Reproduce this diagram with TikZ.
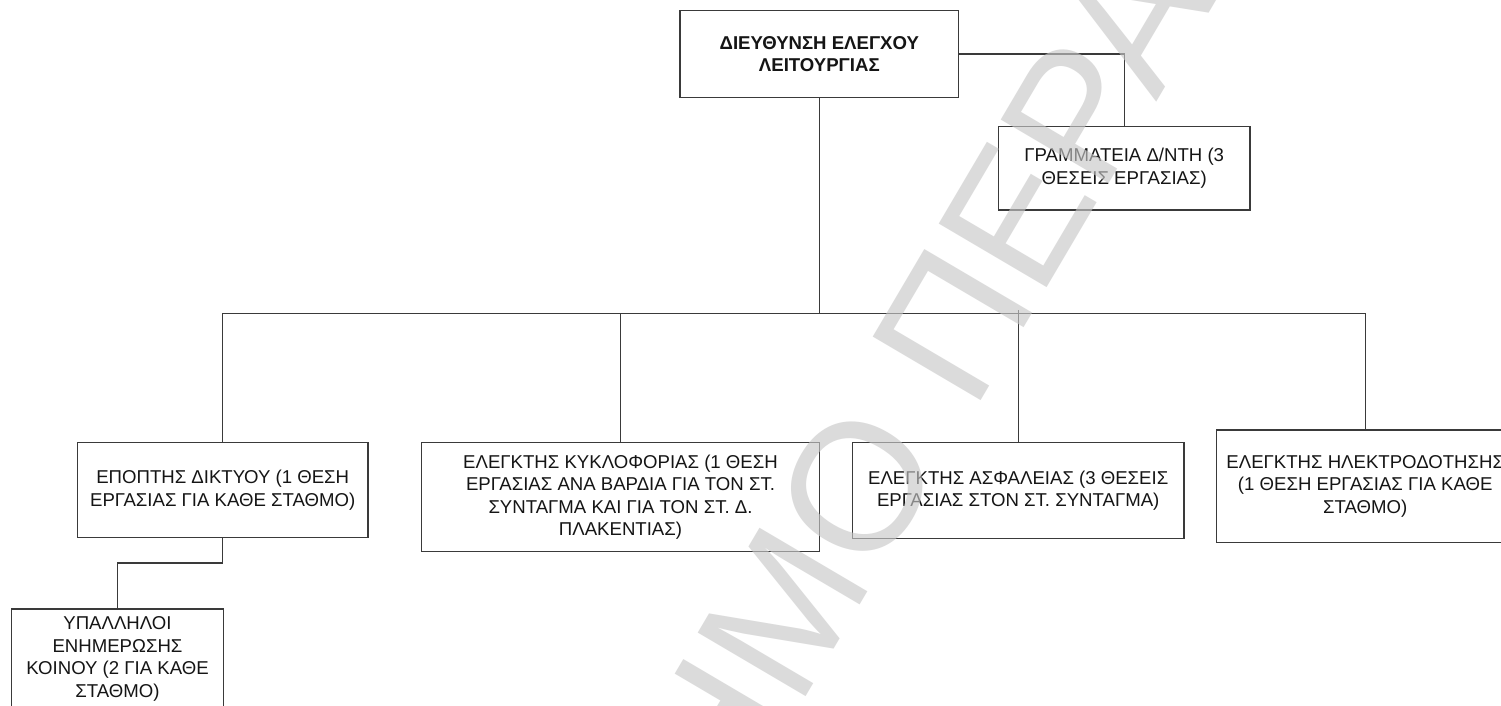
\documentclass[tikz,border=0pt]{standalone}
\usepackage{fontspec}
\setmainfont{Liberation Sans}
\usetikzlibrary{calc}

\definecolor{ink}{HTML}{151515}
\definecolor{rule}{HTML}{3A3A3A}

\tikzset{
  unit/.style={draw=rule, line width=1.2pt, inner sep=0pt, align=center,
               text=ink, font=\fontsize{18.6}{22.5}\selectfont},
  link/.style={draw=rule, line width=1.2pt},
  stamp/.style={text=black!22, opacity=0.64, inner sep=0pt,
                font=\fontsize{182}{182}\selectfont}
}

\begin{document}
\begin{tikzpicture}[x=1pt, y=-1pt]
  \useasboundingbox (0,0) rectangle (1501,706);
  \clip (0,0) rectangle (1501,706);
  \fill[white] (0,0) rectangle (1501,706);

  % director
  \node[unit, minimum width=278.7pt, minimum height=86.6pt,
        font=\fontsize{18.6}{22.5}\selectfont\bfseries]
    (dir) at (819.3,54) {ΔΙΕΥΘΥΝΣΗ ΕΛΕΓΧΟΥ\\ΛΕΙΤΟΥΡΓΙΑΣ};

  % secretariat
  \node[unit, minimum width=251.7pt, minimum height=83.3pt]
    (sec) at (1124.2,168.3) {ΓΡΑΜΜΑΤΕΙΑ Δ/ΝΤΗ (3\\ΘΕΣΕΙΣ ΕΡΓΑΣΙΑΣ)};

  % controllers
  \node[unit, minimum width=290.7pt, minimum height=95pt]
    (net) at (222.7,490.2) {ΕΠΟΠΤΗΣ ΔΙΚΤΥΟΥ (1 ΘΕΣΗ\\ΕΡΓΑΣΙΑΣ ΓΙΑ ΚΑΘΕ ΣΤΑΘΜΟ)};
  \node[unit, minimum width=397.6pt, minimum height=109pt]
    (traf) at (620.5,497.2) {ΕΛΕΓΚΤΗΣ ΚΥΚΛΟΦΟΡΙΑΣ (1 ΘΕΣΗ\\ΕΡΓΑΣΙΑΣ ΑΝΑ ΒΑΡΔΙΑ ΓΙΑ ΤΟΝ ΣΤ.\\ΣΥΝΤΑΓΜΑ ΚΑΙ ΓΙΑ ΤΟΝ ΣΤ. Δ.\\ΠΛΑΚΕΝΤΙΑΣ)};
  \node[unit, minimum width=331.7pt, minimum height=95.6pt]
    (safe) at (1018.2,490.5) {ΕΛΕΓΚΤΗΣ ΑΣΦΑΛΕΙΑΣ (3 ΘΕΣΕΙΣ\\ΕΡΓΑΣΙΑΣ ΣΤΟΝ ΣΤ. ΣΥΝΤΑΓΜΑ)};
  \node[unit, minimum width=297pt, minimum height=112.3pt]
    (pow) at (1365.2,486.2) {ΕΛΕΓΚΤΗΣ ΗΛΕΚΤΡΟΔΟΤΗΣΗΣ\\(1 ΘΕΣΗ ΕΡΓΑΣΙΑΣ ΓΙΑ ΚΑΘΕ\\ΣΤΑΘΜΟ)};

  % information staff
  \node[unit, minimum width=211.6pt, minimum height=100pt]
    (info) at (117.5,659) {ΥΠΑΛΛΗΛΟΙ\\ΕΝΗΜΕΡΩΣΗΣ\\ΚΟΙΝΟΥ (2 ΓΙΑ ΚΑΘΕ\\ΣΤΑΘΜΟ)};

  % connectors
  \coordinate (bus) at (0,313.5);
  \draw[link] (dir.east) -| (sec.north);
  \draw[link] (dir.south) -- (dir.south |- bus);
  \draw[link] (net.north) -- (net.north |- bus) -- (pow.north |- bus) -- (pow.north);
  \draw[link] (traf.north) -- (traf.north |- bus);
  \draw[link] (safe.north) -- ($(safe.north |- bus)+(0,-4)$);
  \draw[link] (net.south) -- ++(0,24.6) -| (info.north);

  % watermark
  \node[stamp, rotate=59.5] (wm) at (921,379) {ΗΜΟ ΠΕΡΑ};
\end{tikzpicture}
\end{document}
